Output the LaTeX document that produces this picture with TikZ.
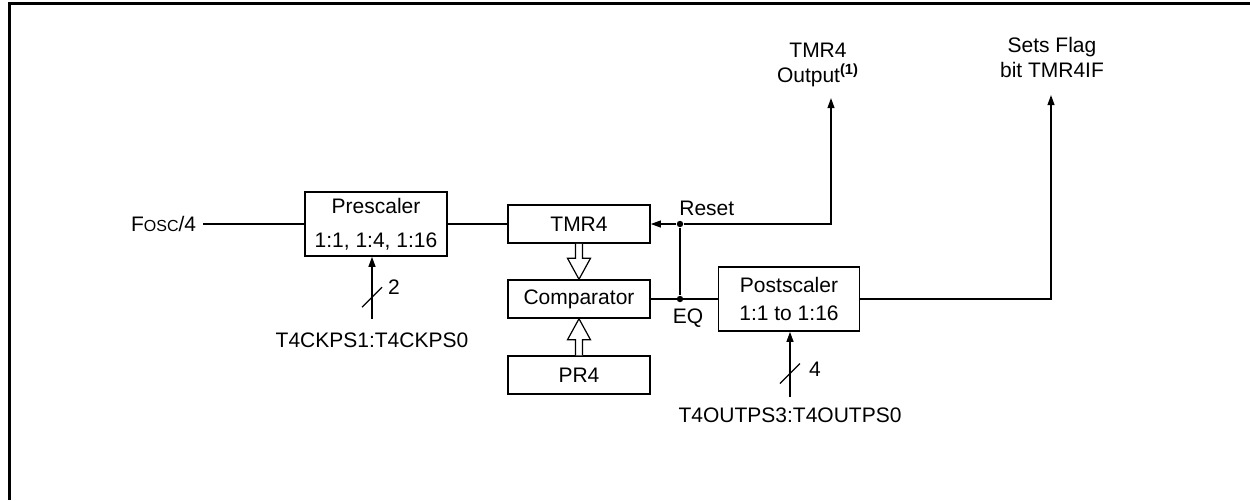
\documentclass[tikz,border=0pt]{standalone}
\usepackage{fontspec}
\setmainfont{Liberation Sans}
\usetikzlibrary{arrows.meta, positioning, calc}
\tikzset{
  >={Triangle[length=5pt, width=3.4pt]},
  wire/.style  ={line width=0.75pt},
  blk/.style   ={rectangle, draw, line width=0.75pt, minimum width=71pt,
                 minimum height=19pt, inner sep=0pt, align=center},
  blkbig/.style={blk, minimum height=32pt},
  dot/.style   ={circle, fill, minimum size=3.2pt, inner sep=0pt},
  bus/.style   ={line width=0.6pt},
  hollow/.style={line width=0.6pt, fill=white},
  lbl/.style   ={inner sep=0pt, align=center},
  frame/.style ={line width=1.5pt},
}

\begin{document}
\begin{tikzpicture}[x=0.5pt, y=-0.5pt, font=\fontsize{10.5}{12.5}\selectfont]
  \useasboundingbox (0,0) rectangle (1250,500);
  \draw[frame] (9,500) -- (9,3) -- (1250,3);

  % --- blocks ---------------------------------------------------------------
  \node[blkbig] (pre)  at (376,224) {Prescaler\\[4.5pt]1:1, 1:4, 1:16};
  \node[blk]    (tmr)  at (579,224) {TMR4};
  \node[blk]    (cmp)  at (579,299) {Comparator};
  \node[blk]    (pr)   at (579,375) {PR4};
  \node[blkbig, minimum width=70.5pt] (post) at (789,299) {Postscaler\\[1.5pt]1:1 to 1:16};

  % --- labels and junctions ---------------------------------------------------
  \node[lbl, inner xsep=3.25pt, anchor=east] (fosc) at (203,224) {F{\fontsize{8}{9}\selectfont OSC}/4};
  \node[lbl] (tout)  at (818,65)  {TMR4\\Output\textsuperscript{\bfseries(1)}};
  \node[lbl] (flag)  at (1052,57) {Sets Flag\\bit TMR4IF};
  \node[lbl] (ckps)  at (372,340) {T4CKPS1:T4CKPS0};
  \node[lbl] (outps) at (790,415) {T4OUTPS3:T4OUTPS0};
  \node[dot] (rst) at (680,224) {};
  \node[dot] (eq)  at (680,299) {};
  \node[lbl, anchor=west] (rstlbl) at (679,208) {Reset};
  \node[lbl] (eqlbl) at (688,318) {EQ};
  \coordinate (toutend) at (831,98);
  \coordinate (flagend) at (1051,95);
  \coordinate (ckin)    at (372,319);
  \coordinate (outin)   at (790,397);

  % --- wires ------------------------------------------------------------------
  \draw[wire] (fosc) -- (pre.west);
  \draw[wire] (pre.east) -- (tmr.west);
  \draw[wire,->] (rst) -- (tmr.east);
  \draw[wire,->] (rst) -| (toutend);
  \draw[wire] (rst) -- (eq);
  \draw[wire] (cmp.east) -- (post.west);
  \draw[wire,->] (post.east) -| (flagend);

  % select bits, with bus width tick
  \draw[wire,->] (ckin) -- coordinate[pos=0.35] (cktick) (ckin |- pre.south);
  \draw[bus] ($(cktick)+(-10,10)$) -- ($(cktick)+(10,-10)$);
  \node[lbl] (ckw) at (394,287) {2};
  \draw[wire,->] (outin) -- coordinate[pos=0.36] (outtick) (outin |- post.south);
  \draw[bus] ($(outtick)+(-10,10)$) -- ($(outtick)+(10,-10)$);
  \node[lbl] (outw) at (815,369) {4};

  % hollow data arrows into the comparator
  \draw[hollow] ($(tmr.south)+(-3.5,0)$) -- ($(cmp.north)+(-3.5,-21)$) -- ($(cmp.north)+(-11.5,-21)$)
    -- (cmp.north) -- ($(cmp.north)+(11.5,-21)$) -- ($(cmp.north)+(3.5,-21)$) -- ($(tmr.south)+(3.5,0)$);
  \draw[hollow] ($(pr.north)+(-3.5,0)$) -- ($(cmp.south)+(-3.5,21)$) -- ($(cmp.south)+(-11.5,21)$)
    -- (cmp.south) -- ($(cmp.south)+(11.5,21)$) -- ($(cmp.south)+(3.5,21)$) -- ($(pr.north)+(3.5,0)$);
\end{tikzpicture}
\end{document}
